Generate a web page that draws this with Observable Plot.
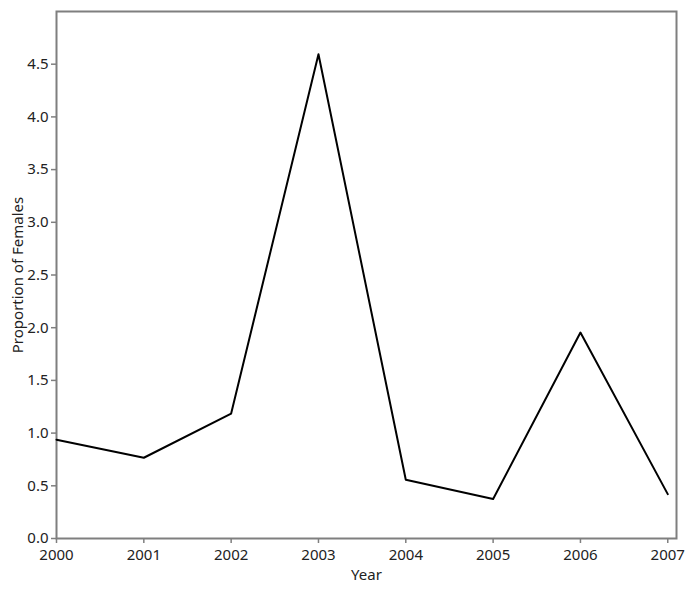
<!DOCTYPE html>
<html>
<head>
<meta charset="utf-8">
<script src="https://cdn.jsdelivr.net/npm/d3@7"></script>
<script src="https://cdn.jsdelivr.net/npm/@observablehq/plot@0.6"></script>
<style>
  html, body { margin: 0; padding: 0; background: #fff; }
  #chart svg { display: block; }
</style>
</head>
<body>
<div id="chart"></div>
<script>
const years = [2000, 2001, 2002, 2003, 2004, 2005, 2006, 2007];
const proportion = [0.937, 0.766, 1.185, 4.595, 0.557, 0.374, 1.954, 0.421];
const yTicks = [0, 0.5, 1, 1.5, 2, 2.5, 3, 3.5, 4, 4.5];

const data = years.map((y, i) => ({year: y, value: proportion[i]}));

const chart = Plot.plot({
  width: 693,
  height: 589,
  marginLeft: 56,
  marginRight: 17,
  marginTop: 11,
  marginBottom: 51,
  style: {fontFamily: "'Noto Sans', 'Open Sans', sans-serif", fontSize: "15px", color: "#222", background: "#fff"},
  x: {domain: [2000, 2007.1]},
  y: {domain: [0, 5]},
  marks: [
    Plot.frame({stroke: "#7f7f7f", strokeWidth: 2}),
    Plot.axisX(years, {tickFormat: d => String(d), tickSize: 5, stroke: "#7f7f7f", strokeWidth: 1.5, tickPadding: 6, fill: "#222", label: null, fontSize: 15}),
    Plot.axisY(yTicks, {tickFormat: d3.format(".1f"), tickSize: 5, stroke: "#7f7f7f", strokeWidth: 1.5, tickPadding: 3, fill: "#222", label: null, fontSize: 15}),
    Plot.text(["Year"], {frameAnchor: "bottom", dy: 41, fontSize: 15, fill: "#222"}),
    Plot.text(["Proportion of Females"], {frameAnchor: "left", textAnchor: "middle", dx: -38, rotate: -90, fontSize: 15, fill: "#222"}),
    Plot.line(data, {x: "year", y: "value", stroke: "#000", strokeWidth: 2})
  ]
});
document.getElementById("chart").appendChild(chart);
</script>
</body>
</html>
